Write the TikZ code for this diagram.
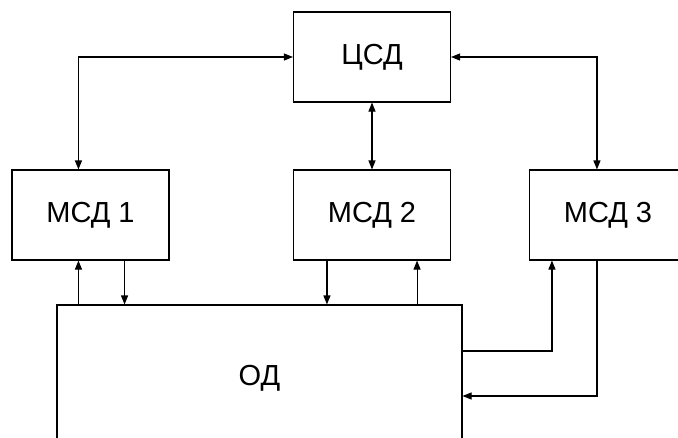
\documentclass[tikz,border=0pt]{standalone}
\usepackage{fontspec}
\setmainfont{Liberation Sans}
\usetikzlibrary{arrows.meta}
\begin{document}
\begin{tikzpicture}[x=1pt,y=-1pt,
  blk/.style={draw=black,line width=1.1pt,minimum width=157pt,minimum height=90pt,inner sep=0pt,
    font=\fontsize{29}{31}\selectfont},
  con/.style={draw=black,line width=1.1pt},
  tip/.style={-{Triangle[length=9pt,width=7pt]}},
  bitip/.style={{Triangle[length=9pt,width=7pt]}-{Triangle[length=9pt,width=7pt]}}]
\useasboundingbox (0,0) rectangle (678,437);
\clip (0,0) rectangle (678,437);
\node[blk] (csd) at (372,57) {ЦСД};
\node[blk] (msd1) at (90.5,215) {МСД 1};
\node[blk] (msd2) at (372,215) {МСД 2};
\node[blk] (msd3) at (608,215) {МСД 3};
\node[blk,minimum width=405pt,minimum height=146pt] (od) at (259.5,378) {ОД};
% top links
\draw[con,bitip] ([xshift=67pt]msd1.north west) |- (csd.west);
\draw[con,bitip] ([xshift=68pt]msd3.north west) |- (csd.east);
\draw[con,bitip] (msd2.north) -- (csd.south);
% MSD1 <-> OD
\draw[con,tip] ([xshift=22pt]od.north west) -- ([xshift=22pt]od.north west |- msd1.south);
\draw[con,tip] ([xshift=-45pt]msd1.south east) -- ([xshift=-45pt]msd1.south east |- od.north);
% MSD2 <-> OD
\draw[con,tip] ([xshift=34pt]msd2.south west) -- ([xshift=34pt]msd2.south west |- od.north);
\draw[con,tip] ([xshift=-34pt]msd2.south east |- od.north) -- ([xshift=-34pt]msd2.south east);
% MSD3 <-> OD
\coordinate (o1) at ([yshift=27pt]od.east);
\coordinate (o2) at ([yshift=-18pt]od.east);
\draw[con,tip] (o1) -| ([xshift=23pt]msd3.south west);
\draw[con,tip] ([xshift=68pt]msd3.south west) |- (o2);
\end{tikzpicture}
\end{document}
